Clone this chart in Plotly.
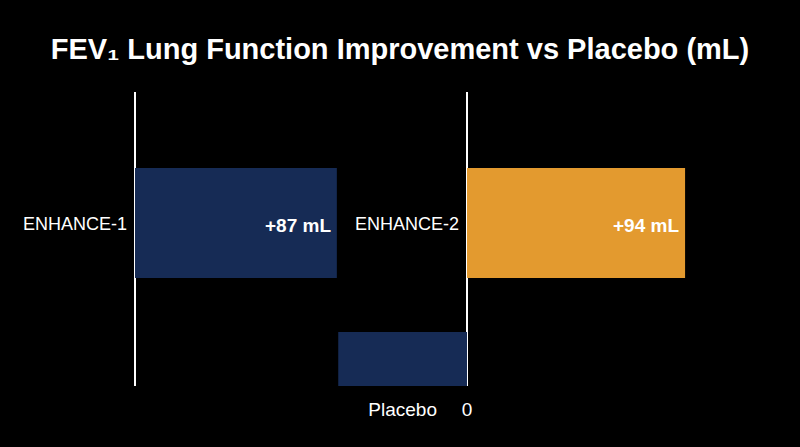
import plotly.graph_objects as go

# Data
studies = ["ENHANCE-1", "ENHANCE-2"]
improvement_ml = [87, 94]
placebo_label = "Placebo"
placebo_bar = -55.5  # drawn extent (mL scale)
zero_label = "0"

navy = "#162b55"
orange = "#e39a2f"
font_family = "Liberation Sans, Arial, Helvetica, sans-serif"

row_y = [1, 0]  # ENHANCE row, placebo row
axes = ["x", "x2"]
colors = [navy, orange]

fig = go.Figure()

for i in range(2):
    fig.add_trace(go.Bar(
        x=[improvement_ml[i]], y=[row_y[0]], orientation="h", width=0.809,
        marker=dict(color=colors[i], line=dict(width=0)),
        xaxis=axes[i], yaxis="y", showlegend=False, hoverinfo="skip",
    ))
fig.add_trace(go.Bar(
    x=[placebo_bar], y=[row_y[1]], orientation="h", width=0.397,
    marker=dict(color=navy, line=dict(width=0)),
    xaxis="x2", yaxis="y", showlegend=False, hoverinfo="skip",
))

scale = 2.32  # px per mL
plot_left, plot_right = 135, 720
plot_w = plot_right - plot_left
offset_ml = (467 - 135) / scale

fig.update_layout(
    width=800, height=447,
    paper_bgcolor="black", plot_bgcolor="black",
    margin=dict(l=plot_left, r=800 - plot_right, t=92, b=61),
    barmode="overlay",
    font=dict(family=font_family, color="white", size=18),
    title=dict(text="<b>FEV₁ Lung Function Improvement vs Placebo (mL)</b>",
               x=0.5, xanchor="center", y=1 - 49 / 447, yanchor="middle",
               yref="container", font=dict(size=29, color="white", family=font_family)),
    xaxis=dict(range=[0, plot_w / scale], showgrid=False, showticklabels=False,
               zeroline=True, zerolinecolor="white", zerolinewidth=1.5,
               showline=False, ticks=""),
    xaxis2=dict(range=[-offset_ml, plot_w / scale - offset_ml], overlaying="x",
                anchor="y", side="bottom", showgrid=False,
                zeroline=True, zerolinecolor="white", zerolinewidth=1.5,
                tickmode="array", tickvals=[placebo_bar / 2, 0],
                ticktext=[placebo_label, zero_label],
                ticks="outside", ticklen=6, tickcolor="rgba(0,0,0,0)",
                tickfont=dict(size=19, color="white")),
    yaxis=dict(range=[-0.1985, 1.963], showgrid=False, showticklabels=False,
               zeroline=False, showline=False),
)

for i in range(2):
    fig.add_annotation(text=studies[i], x=0, y=row_y[0], xref=axes[i], yref="y",
                       xanchor="right", yanchor="middle", xshift=-6, yshift=-1,
                       showarrow=False,
                       font=dict(size=18, color="white", family=font_family))
    fig.add_annotation(text=f"<b>+{improvement_ml[i]} mL</b>", x=improvement_ml[i],
                       y=row_y[0], xref=axes[i], yref="y",
                       xanchor="right", yanchor="middle", xshift=-4, yshift=-3,
                       showarrow=False,
                       font=dict(size=19, color="white", family=font_family))

fig.write_html("out.html", config={"displayModeBar": False},
               post_script="document.body.style.margin='0';document.body.style.background='black';")
